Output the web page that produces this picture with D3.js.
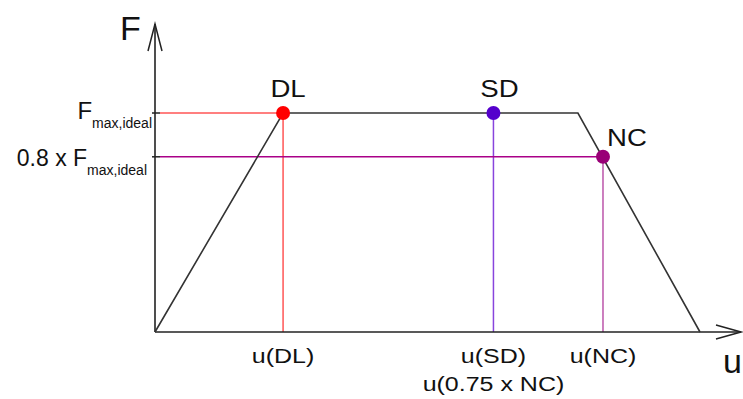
<!DOCTYPE html>
<html><head><meta charset="utf-8">
<script src="https://cdn.jsdelivr.net/npm/d3@7"></script>
<style>body{margin:0;background:#fff}svg{display:block}text{font-family:"Liberation Sans",Arial,sans-serif;fill:#111}</style>
</head><body><svg id="c" width="743" height="399"></svg>
<script>
// Capacity curve (u in relative units, F in units of Fmax,ideal)
const curveU = [0, 23.5, 77.6, 100];
const curveF = [0, 1, 1, 0];
const pointNames = ["DL", "SD", "NC"];
const pointU = [23.5, 62.1, 82.2];
const pointF = [1, 1, 0.8];
const pointColors = ["#ff0000", "#5500cc", "#990077"];
const hLineColors = ["#ff5555", null, "#aa0088"];
const vLineColors = ["#ff5555", "#8844dd", "#bb55aa"];
const uTickLabels = ["u(DL)", "u(SD)", "u(NC)"];

const svg = d3.select("#c");
const x = d3.scaleLinear().domain([0, 100]).range([155, 700]);
const y = d3.scaleLinear().domain([0, 1.4]).range([332, 25.4]);
const x0 = x(0), y0 = y(0);

// reference lines
pointU.forEach((u, i) => {
  if (hLineColors[i]) {
    svg.append("line").attr("x1", x0 + 5).attr("x2", x(u)).attr("y1", y(pointF[i])).attr("y2", y(pointF[i]))
      .attr("stroke", hLineColors[i]).attr("stroke-width", 1.5);
  }
  svg.append("line").attr("x1", x(u)).attr("x2", x(u)).attr("y1", y(pointF[i])).attr("y2", y0)
    .attr("stroke", vLineColors[i]).attr("stroke-width", 1.5);
});

// y ticks
[1, 0.8].forEach(f => {
  svg.append("line").attr("x1", x0 - 3).attr("x2", x0 + 5).attr("y1", y(f)).attr("y2", y(f))
    .attr("stroke", "#222").attr("stroke-width", 1.5);
});

// axes
svg.append("line").attr("x1", x0).attr("x2", x0).attr("y1", y0).attr("y2", 24).attr("stroke", "#222").attr("stroke-width", 1.6);
svg.append("path").attr("d", `M${x0 - 7},51 L${x0},24 L${x0 + 7},51`).attr("fill", "none").attr("stroke", "#222").attr("stroke-width", 1.5);
svg.append("line").attr("x1", x0).attr("x2", 741).attr("y1", y0).attr("y2", y0).attr("stroke", "#222").attr("stroke-width", 1.6);
svg.append("path").attr("d", `M716,${y0 - 7} L741,${y0} L716,${y0 + 7}`).attr("fill", "none").attr("stroke", "#222").attr("stroke-width", 1.5);

// curve
const line = d3.line().x((d, i) => x(curveU[i])).y((d, i) => y(curveF[i]));
svg.append("path").attr("d", line(curveU)).attr("fill", "none").attr("stroke", "#333").attr("stroke-width", 1.6);

// points
pointU.forEach((u, i) => {
  svg.append("circle").attr("cx", x(u)).attr("cy", y(pointF[i])).attr("r", 7).attr("fill", pointColors[i]);
});
const labelOff = [[5, -16], [6, -16], [24, -11]];
pointNames.forEach((n, i) => {
  svg.append("text")
    .attr("transform", `translate(${x(pointU[i]) + labelOff[i][0]},${y(pointF[i]) + labelOff[i][1]}) scale(1.2,1)`)
    .attr("text-anchor", "middle").attr("font-size", 23).text(n);
});

// x tick labels
uTickLabels.forEach((t, i) => {
  svg.append("text").attr("transform", `translate(${x(pointU[i])},363) scale(1.25,1)`)
    .attr("text-anchor", "middle").attr("font-size", 20).text(t);
});
svg.append("text").attr("transform", `translate(${x(pointU[1])},391) scale(1.25,1)`)
  .attr("text-anchor", "middle").attr("font-size", 20).text("u(0.75 x NC)");

// y tick labels
function fLabel(prefix, xEnd, yy, fs) {
  const t = svg.append("text").attr("x", xEnd).attr("y", yy).attr("text-anchor", "end").attr("font-size", fs);
  t.append("tspan").text(prefix + "F");
  t.append("tspan").attr("font-size", 14).attr("dy", 9).text("max,ideal");
}
fLabel("", 152, 119, 24);
fLabel("0.8 x ", 147, 166, 23);

// axis titles
svg.append("text").attr("x", 120).attr("y", 40).attr("font-size", 34).text("F");
svg.append("text").attr("x", 723).attr("y", 373).attr("font-size", 34).text("u");
</script></body></html>
